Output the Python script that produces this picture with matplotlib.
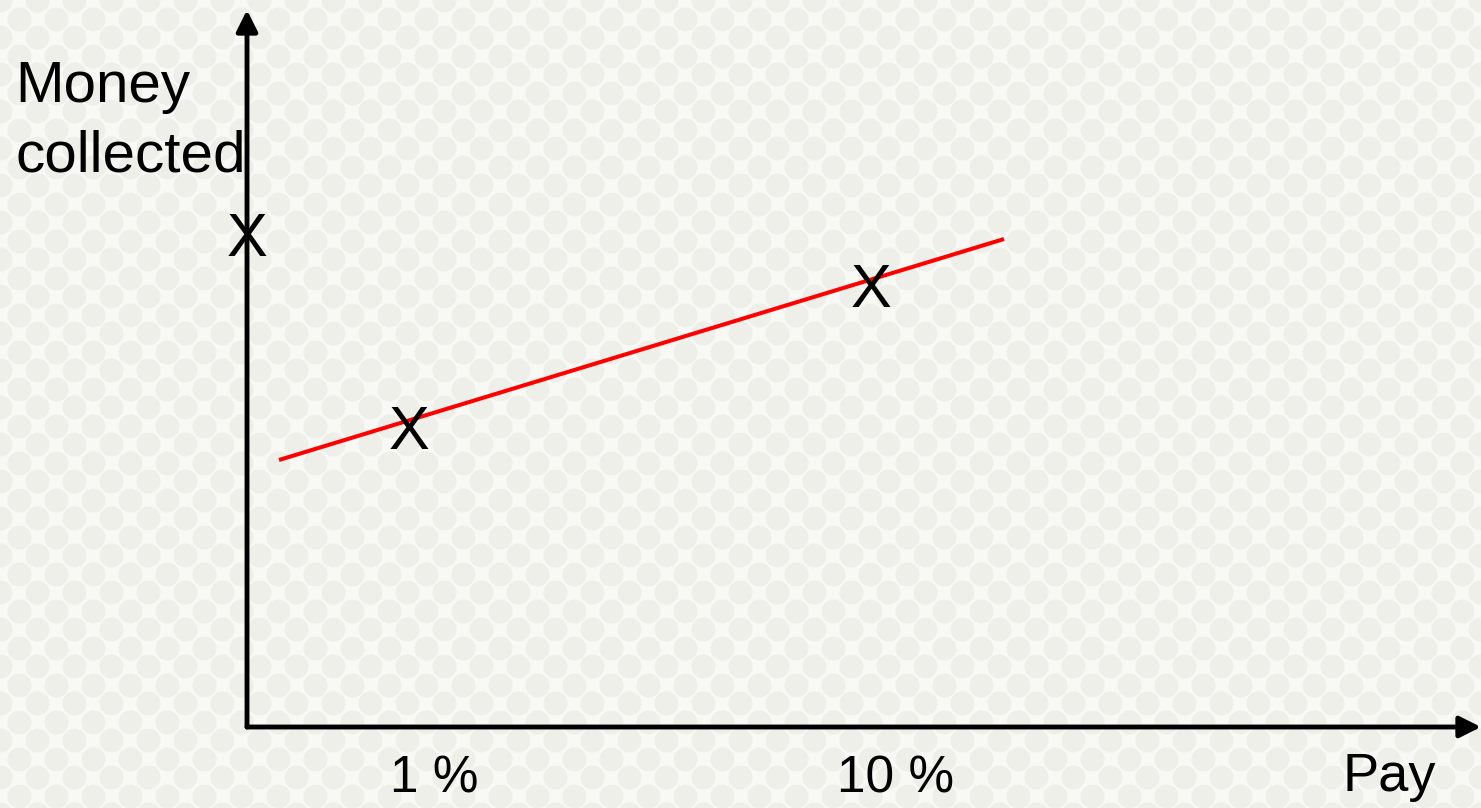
import matplotlib.pyplot as plt
import numpy as np

plt.rcParams['font.family'] = ['Liberation Sans', 'DejaVu Sans']

# pay levels and money collected (in chart units)
pay_labels = ['1 %', '10 %']
pay_pos = [1.62, 6.24]
money = [3.0, 4.42]
# red trend line through the two points
trend_x = [0.32, 7.57]
trend_y = [2.67, 4.88]
# money collected at 0 pay, marked on the y axis
axis_mark_y = 4.93

W, H = 1481, 808
fig = plt.figure(figsize=(W / 100, H / 100), dpi=100)
fig.patch.set_facecolor('#f8f8f5')

# faint halftone dots in the background
bg = fig.add_axes([0, 0, 1, 1])
bg.set_xlim(0, W)
bg.set_ylim(H, 0)
bg.axis('off')
gx, gy = np.meshgrid(np.arange(0, W + 40, 37), np.arange(0, H + 40, 37))
bg.scatter(gx.ravel(), gy.ravel(), s=300, color='#efefea', lw=0)
bg.scatter(gx.ravel() + 18.5, gy.ravel() + 18.5, s=300, color='#efefea', lw=0)

ax = fig.add_axes([247 / W, (H - 727) / H, (W - 247) / W, (727 - 10) / H])
ax.set_xlim(0, 12.34)
ax.set_ylim(0, 7.17)
ax.patch.set_alpha(0)
for s in ax.spines.values():
    s.set_visible(False)
ax.set_xticks([])
ax.set_yticks([])

# axes with arrow heads
arrow = dict(arrowstyle='-|>', lw=3.5, color='black', mutation_scale=32, shrinkA=0, shrinkB=0)
ax.annotate('', xy=(0, 1.0), xytext=(0, 0), xycoords='axes fraction', arrowprops=arrow)
ax.annotate('', xy=(1.0, 0), xytext=(0, 0), xycoords='axes fraction', arrowprops=arrow)

ax.plot(trend_x, trend_y, color='red', lw=2.9, solid_capstyle='butt')

xs_off = -0.716 * 44 / 2
for x, y in zip(pay_pos, money):
    ax.annotate('X', (x, y), xytext=(0, xs_off), textcoords='offset points',
                ha='center', va='baseline', fontsize=44)
ax.annotate('X', (0, axis_mark_y), xytext=(0, xs_off), textcoords='offset points',
            ha='center', va='baseline', fontsize=44)

for x, lab in zip(pay_pos, pay_labels):
    ax.annotate(lab, (x, 0), xytext=(18, -47), textcoords='offset points',
                ha='center', va='baseline', fontsize=37, annotation_clip=False)

ax.annotate('Pay', (1, 0), xycoords='axes fraction', xytext=(-66, -46),
            textcoords='offset points', ha='center', va='baseline', fontsize=39)

fig.text(15 / W, 1 - 102 / H, 'Money', fontsize=42, ha='left', va='baseline')
fig.text(15 / W, 1 - 172 / H, 'collected', fontsize=42, ha='left', va='baseline')

fig.savefig('out.png', dpi=100, facecolor=fig.get_facecolor())
